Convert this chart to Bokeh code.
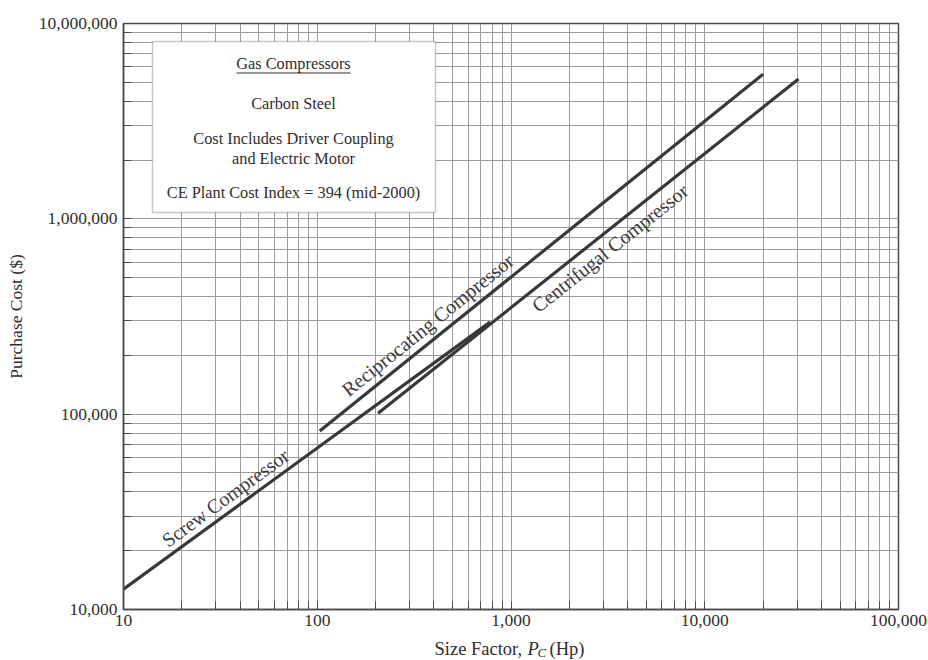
import math
from bokeh.plotting import figure
from bokeh.layouts import column
from bokeh.models import Label, BoxAnnotation, FixedTicker, Range1d
from bokeh.embed import file_html
from bokeh.resources import INLINE

# ---- data ----
screw_hp = [10, 780]
screw_cost = [12700, 296000]
recip_hp = [103, 20000]
recip_cost = [82000, 5500000]
centri_hp = [206, 30500]
centri_cost = [101000, 5200000]

x_major = [10, 100, 1000, 10000, 100000]
x_labels = ["10", "100", "1,000", "10,000", "100,000"]
y_major = [10000, 100000, 1000000, 10000000]
y_labels = ["10,000", "100,000", "1,000,000", "10,000,000"]

box_lines = ["Gas Compressors", "Carbon Steel", "Cost Includes Driver Coupling",
             "and Electric Motor", "CE Plant Cost Index = 394 (mid-2000)"]

# ---- layout ----
W, H = 928, 660
H1 = 636                      # main figure height; a title strip follows
FL, FT, FR, FB = 123, 23, 898, 609
FW, FH = FR - FL, FB - FT
SERIF = "Liberation Serif"
TXT = "#2e2e2e"
GRID = "#9a9a9a"
EDGE = "#4a4a4a"
TICK_FS = "17.5px"

p = figure(width=W, height=H1, x_axis_type="log", y_axis_type="log",
           x_range=(10, 100000), y_range=(10000, 10000000),
           output_backend="svg", toolbar_location=None, title=None,
           min_border_left=FL, min_border_right=W - FR,
           min_border_top=FT, min_border_bottom=H1 - FB)
p.background_fill_color = "white"
p.border_fill_color = "white"
p.outline_line_color = EDGE
p.outline_line_width = 1.5

x_minor = [m * d for d in x_major[:-1] for m in range(2, 10)]
y_minor = [m * d for d in y_major[:-1] for m in range(2, 10)]
p.xaxis.ticker = FixedTicker(ticks=x_major, minor_ticks=x_minor)
p.yaxis.ticker = FixedTicker(ticks=y_major, minor_ticks=y_minor)
p.xaxis.major_label_overrides = {v: s for v, s in zip(x_major, x_labels)}
p.yaxis.major_label_overrides = {v: s for v, s in zip(y_major, y_labels)}

for ax in (p.xaxis, p.yaxis):
    ax.axis_line_color = EDGE
    ax.axis_line_width = 1.5
    ax.major_tick_in = 8
    ax.major_tick_out = 0
    ax.minor_tick_in = 8
    ax.minor_tick_out = 0
    ax.major_tick_line_color = EDGE
    ax.minor_tick_line_color = EDGE
    ax.major_label_text_font = SERIF
    ax.major_label_text_font_size = TICK_FS
    ax.major_label_text_color = TXT
p.xaxis.major_label_standoff = 5
p.yaxis.major_label_standoff = 6

p.yaxis.axis_label = "Purchase Cost ($)"
p.yaxis.axis_label_text_font = SERIF
p.yaxis.axis_label_text_font_size = "17.5px"
p.yaxis.axis_label_text_font_style = "normal"
p.yaxis.axis_label_text_color = TXT
p.yaxis.axis_label_standoff = 10

for g in (p.xgrid, p.ygrid):
    g.grid_line_color = GRID
    g.grid_line_width = 1
    g.minor_grid_line_color = GRID
    g.minor_grid_line_width = 1

LINE = "#383838"
for xs, ys in ((screw_hp, screw_cost), (recip_hp, recip_cost), (centri_hp, centri_cost)):
    p.line(xs, ys, line_color=LINE, line_width=3.2)


def scr(px, py):
    return px - FL, FB - py


def slabel(text, px, py, size="16px"):
    x, y = scr(px, py)
    p.add_layout(Label(x=x, y=y, x_units="screen", y_units="screen", text=text,
                       text_font=SERIF, text_font_size=size,
                       text_color=TXT, text_align="center", text_baseline="middle"))


# info box
bl, bt = scr(152, 41)
br, bb = scr(435, 212)
p.add_layout(BoxAnnotation(left=bl, right=br, top=bt, bottom=bb,
                           left_units="screen", right_units="screen",
                           top_units="screen", bottom_units="screen",
                           fill_color="white", fill_alpha=1.0,
                           line_color=EDGE, line_width=1.5))
cx = 293
for txt, py in zip(box_lines, [63, 103, 138, 158, 192]):
    slabel(txt, cx, py, size="16.3px")
ul, ut = scr(cx - 57, 72)
ur, ub = scr(cx + 57, 73)
p.add_layout(BoxAnnotation(left=ul, right=ur, top=ut, bottom=ub,
                           left_units="screen", right_units="screen",
                           top_units="screen", bottom_units="screen",
                           fill_color=TXT, fill_alpha=1.0, line_alpha=0))

# labels along the lines
dec_x = FW / 4.0
dec_y = FH / 3.0


def line_label(text, xs, ys, at_x, d, baseline):
    lx0, lx1 = math.log10(xs[0]), math.log10(xs[1])
    ly0, ly1 = math.log10(ys[0]), math.log10(ys[1])
    slope = (ly1 - ly0) / (lx1 - lx0)
    ly = ly0 + slope * (math.log10(at_x) - lx0)
    th = math.atan(slope * dec_y / dec_x)
    p.add_layout(Label(x=at_x, y=10 ** ly, text=text, angle=th,
                       x_offset=-d * math.sin(th), y_offset=d * math.cos(th),
                       text_font=SERIF, text_font_size="20px", text_color="#3a3a3a",
                       text_align="center", text_baseline=baseline))


line_label("Screw Compressor", screw_hp, screw_cost, 37, 3, "bottom")
line_label("Reciprocating Compressor", recip_hp, recip_cost, 415, 4, "bottom")
line_label("Centrifugal Compressor", centri_hp, centri_cost, 2900, -4, "top")

# x-axis title strip (italic P with subscript C); its frame is aligned
# with the main frame, so strip data x equals page pixel x.
H2 = 24
STRIP_TOP = 642
t = figure(frame_width=FW, frame_height=H2, x_range=Range1d(FL, FR), y_range=Range1d(0, H2),
           output_backend="svg", toolbar_location=None, title=None,
           x_axis_location=None, y_axis_location=None,
           min_border_left=0, min_border_right=0, min_border_top=0, min_border_bottom=0)
t.grid.visible = False
t.outline_line_color = None
t.background_fill_color = "white"
t.border_fill_color = "white"

pieces = [("Size Factor,", 434, 654, "18.5px", "normal"),
          ("P", 527, 654, "18.5px", "italic"),
          ("C", 537, 658, "13px", "italic"),
          ("(Hp)", 549, 654, "18.5px", "normal")]
for s, x, by, size, style in pieces:
    t.add_layout(Label(x=x, y=STRIP_TOP + H2 - by, x_units="data", y_units="data", text=s,
                       text_font=SERIF, text_font_size=size, text_font_style=style,
                       text_align="left", text_baseline="alphabetic", text_color=TXT))

layout = column(p, t, spacing=0)
open("out.html", "w").write(file_html(layout, INLINE))
